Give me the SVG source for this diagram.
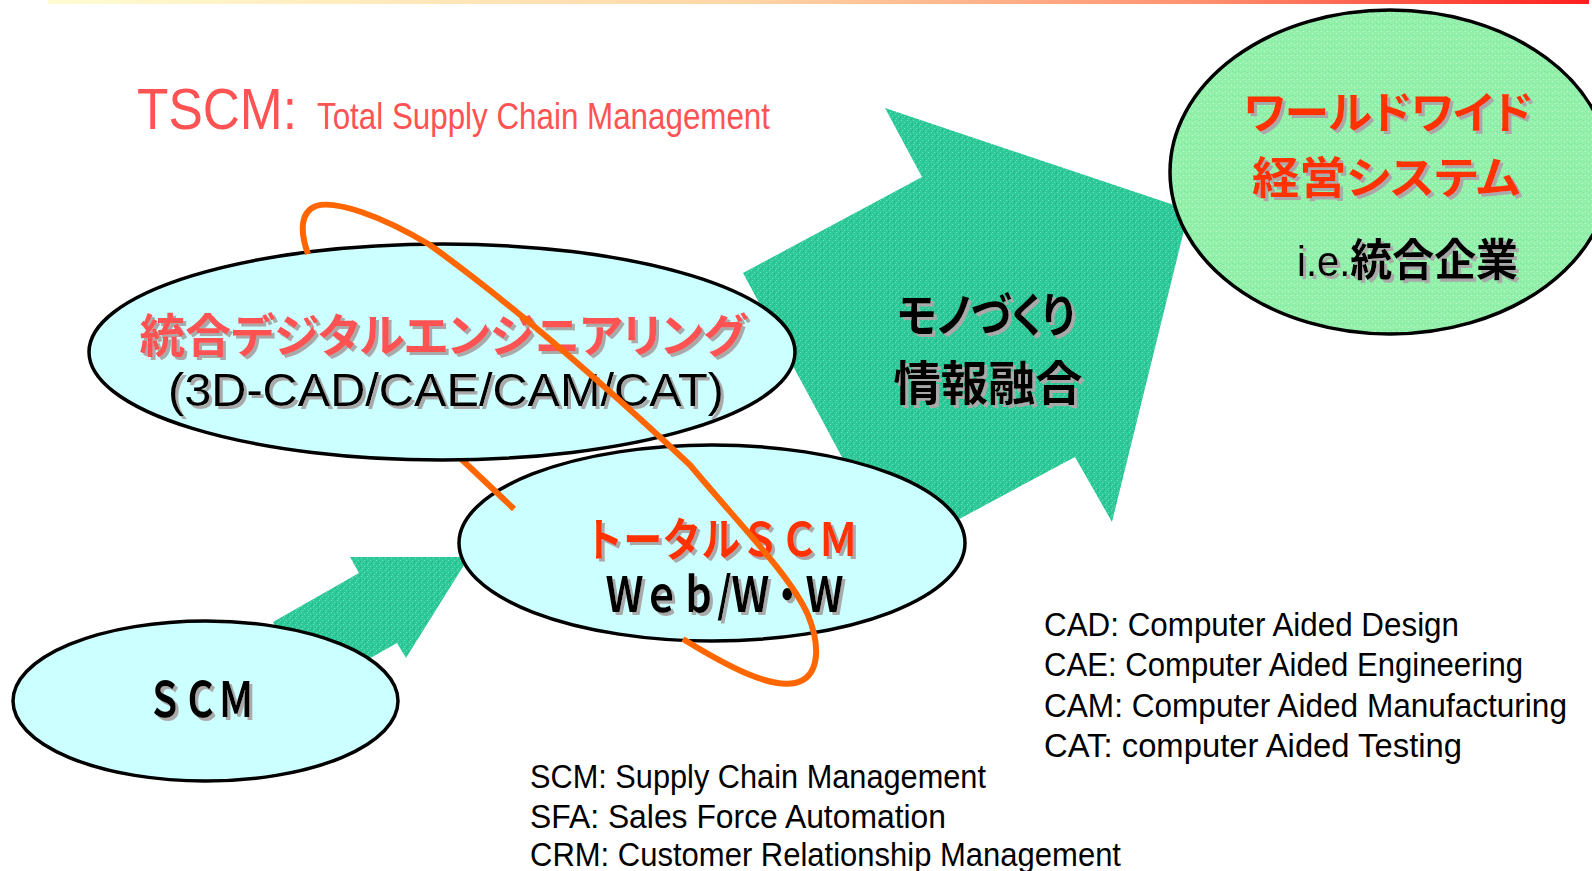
<svg xmlns="http://www.w3.org/2000/svg" width="1592" height="871" viewBox="0 0 1592 871">
<defs>
<linearGradient id="bar" x1="0" y1="0" x2="1" y2="0">
<stop offset="0" stop-color="#FFFCD2"/>
<stop offset="0.45" stop-color="#FFD6A6"/>
<stop offset="0.75" stop-color="#FF9070"/>
<stop offset="1" stop-color="#FF1E1E"/>
</linearGradient>
<pattern id="teal" width="6" height="6" patternUnits="userSpaceOnUse">
<rect width="6" height="6" fill="#2EC998"/>
<rect x="1" y="0" width="1" height="1" fill="#72DDB9"/>
<rect x="4" y="2" width="1" height="1" fill="#72DDB9"/>
<rect x="2" y="4" width="1" height="1" fill="#72DDB9"/>
<rect x="5" y="5" width="1" height="1" fill="#1DB585"/>
<rect x="0" y="3" width="1" height="1" fill="#1DB585"/>
</pattern>
<pattern id="green" width="6" height="6" patternUnits="userSpaceOnUse">
<rect width="6" height="6" fill="#92F0AA"/>
<rect x="1" y="1" width="1" height="1" fill="#C6FAD4"/>
<rect x="4" y="3" width="1" height="1" fill="#C6FAD4"/>
<rect x="2" y="5" width="1" height="1" fill="#7BE598"/>
<rect x="5" y="0" width="1" height="1" fill="#7BE598"/>
</pattern>
<filter id="sh" x="-5%" y="-10%" width="115%" height="140%">
<feOffset in="SourceAlpha" dx="2.5" dy="2.5" result="o"/>
<feFlood flood-color="#A9A9A9"/>
<feComposite in2="o" operator="in" result="s"/>
<feMerge><feMergeNode in="s"/><feMergeNode in="SourceGraphic"/></feMerge>
</filter>
</defs>
<style>
.cy{fill:#CCFFFF;stroke:#000;stroke-width:3.5}
.gr{fill:url(#green);stroke:#000;stroke-width:3.5}
.arrow{fill:url(#teal);stroke:none}
.loop{fill:none;stroke:#FF6600;stroke-width:6}
.jp{font-family:"Noto Sans CJK JP","Noto Sans CJK SC",sans-serif;font-weight:700;font-feature-settings:"palt"}
.jpw{font-family:"Noto Sans CJK JP","Noto Sans CJK SC",sans-serif;font-weight:700}
.lat{font-family:"Liberation Sans",Arial,sans-serif}
.leg{font-family:"Liberation Sans",Arial,sans-serif;font-size:33px;fill:#000}
.red{fill:#FF3300}
.pink{fill:#FF5252}
.blk{fill:#000}
</style>
<rect x="48" y="0" width="1541" height="4" fill="url(#bar)"/>
<g id="title">
<text class="lat" x="137" y="129" font-size="58" fill="#FF5252" textLength="160" lengthAdjust="spacingAndGlyphs">TSCM:</text>
<text class="lat" x="317" y="129" font-size="36" fill="#FF5252" textLength="453" lengthAdjust="spacingAndGlyphs">Total Supply Chain Management</text>
</g>
<g id="connectors">
<polygon class="arrow" points="743,273 922,177 885,108 1189,210 1112,522 1075,457 894,554"/>
<polygon class="arrow" points="273,622 359,573 350,557 469,557 406,658 397,643 312,691"/>
</g>
<g id="node-scm">
<ellipse class="cy" cx="205.5" cy="701" rx="192.5" ry="80"/>
<text class="jpw blk" x="200.5" y="717" font-size="48" text-anchor="middle" filter="url(#sh)" textLength="107" lengthAdjust="spacingAndGlyphs">ＳＣＭ</text>
</g>
<g id="node-total-scm">
<ellipse class="cy" cx="712" cy="543" rx="253" ry="98"/>
<text class="jpw red" x="721" y="556" font-size="46" text-anchor="middle" filter="url(#sh)" textLength="274" lengthAdjust="spacingAndGlyphs">トータルＳＣＭ</text>
<text class="jpw blk" x="724.5" y="612" font-size="48" text-anchor="middle" filter="url(#sh)" textLength="237" lengthAdjust="spacingAndGlyphs">Ｗｅｂ/Ｗ・Ｗ</text>
</g>
<g id="loop-back">
<path class="loop" d="M 440 439 L 514 509"/>
</g>
<g id="node-digital-eng">
<ellipse class="cy" cx="442" cy="352" rx="353" ry="108"/>
<text class="jp pink" x="443" y="352" font-size="46" text-anchor="middle" filter="url(#sh)" textLength="607" lengthAdjust="spacingAndGlyphs">統合デジタルエンジニアリング</text>
<text class="lat blk" x="446" y="406" font-size="46" text-anchor="middle" filter="url(#sh)" textLength="556" lengthAdjust="spacingAndGlyphs">(3D-CAD/CAE/CAM/CAT)</text>
</g>
<g id="node-worldwide">
<ellipse class="gr" cx="1390" cy="172" rx="220" ry="162"/>
<text class="jp red" x="1388" y="129" font-size="44" text-anchor="middle" filter="url(#sh)" textLength="289" lengthAdjust="spacingAndGlyphs">ワールドワイド</text>
<text class="jp red" x="1386" y="194" font-size="44" text-anchor="middle" filter="url(#sh)" textLength="268" lengthAdjust="spacingAndGlyphs">経営システム</text>
<text x="1297" y="276" filter="url(#sh)" fill="#000" textLength="221" lengthAdjust="spacingAndGlyphs"><tspan class="lat" font-size="42">i.e.</tspan><tspan class="jp" font-size="44">統合企業</tspan></text>
</g>
<g id="arrow-label">
<text class="jp blk" x="986" y="332" font-size="47" text-anchor="middle" filter="url(#sh)" textLength="178" lengthAdjust="spacingAndGlyphs">モノづくり</text>
<text class="jp blk" x="988" y="400" font-size="47" text-anchor="middle" filter="url(#sh)" textLength="189" lengthAdjust="spacingAndGlyphs">情報融合</text>
</g>
<g id="loop-front">
<path class="loop" d="M 308 254 C 300 232, 300 212, 316 206 C 335 200, 380 215, 430 245 C 520 310, 610 390, 690 465 C 740 525, 790 575, 808 615 C 822 650, 818 678, 795 683 C 770 688, 730 668, 683 639"/>
</g>
<g id="legend-right">
<text class="leg" x="1044" y="636" textLength="415" lengthAdjust="spacingAndGlyphs">CAD: Computer Aided Design</text>
<text class="leg" x="1044" y="676" textLength="479" lengthAdjust="spacingAndGlyphs">CAE: Computer Aided Engineering</text>
<text class="leg" x="1044" y="717" textLength="523" lengthAdjust="spacingAndGlyphs">CAM: Computer Aided Manufacturing</text>
<text class="leg" x="1044" y="757" textLength="418" lengthAdjust="spacingAndGlyphs">CAT: computer Aided Testing</text>
</g>
<g id="legend-bottom">
<text class="leg" x="530" y="788" textLength="456" lengthAdjust="spacingAndGlyphs">SCM: Supply Chain Management</text>
<text class="leg" x="530" y="828" textLength="416" lengthAdjust="spacingAndGlyphs">SFA: Sales Force Automation</text>
<text class="leg" x="530" y="866" textLength="591" lengthAdjust="spacingAndGlyphs">CRM: Customer Relationship Management</text>
</g>
</svg>
